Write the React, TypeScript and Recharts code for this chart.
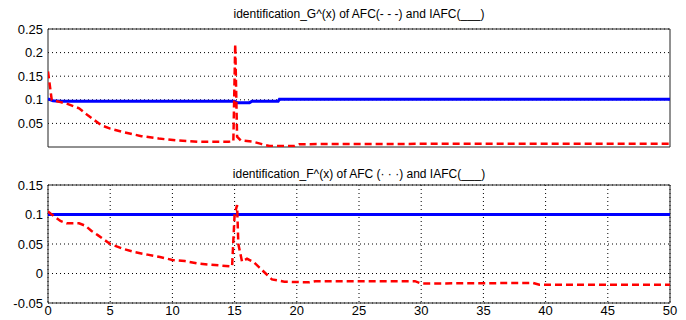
import { LineChart, Line, XAxis, YAxis, CartesianGrid, ReferenceArea } from 'recharts';

// top subplot: identification of G^(x)
const gAfcX = [0, 0.3, 1, 1.5, 2.5, 3.2, 4.3, 5, 6, 7.5, 8.9, 10.3, 12, 14.5, 14.9, 15.05, 15.2, 15.5, 16.5, 17.2, 17.8, 19.8, 20.2, 35, 50];
const gAfcY = [0.16, 0.1, 0.095, 0.092, 0.082, 0.067, 0.046, 0.039, 0.032, 0.023, 0.018, 0.014, 0.011, 0.011, 0.012, 0.218, 0.022, 0.014, 0.011, 0.006, 0.002, 0.002, 0.006, 0.007, 0.007];
const gIafcX = [0, 0.4, 1, 15, 15.2, 16.2, 16.4, 18.5, 18.6, 50];
const gIafcY = [0.102, 0.098, 0.097, 0.097, 0.094, 0.094, 0.097, 0.097, 0.101, 0.101];

// bottom subplot: identification of F^(x)
const fAfcX = [0, 0.3, 1, 1.5, 2.5, 3, 3.5, 4, 5, 6, 7, 8, 9, 10, 11, 12, 13, 14.8, 15, 15.2, 15.3, 15.6, 16, 16.5, 17, 17.5, 18, 19, 21, 21.5, 29.5, 30, 39, 39.5, 50];
const fAfcY = [0.105, 0.1, 0.089, 0.085, 0.085, 0.081, 0.072, 0.065, 0.05, 0.042, 0.036, 0.032, 0.028, 0.023, 0.021, 0.017, 0.015, 0.012, 0.1, 0.116, 0.05, 0.02, 0.025, 0.02, 0.01, 0, -0.01, -0.014, -0.015, -0.013, -0.013, -0.017, -0.016, -0.019, -0.019];
const fIafcX = [0, 50];
const fIafcY = [0.1, 0.1];

const xTicks = [0, 5, 10, 15, 20, 25, 30, 35, 40, 45, 50];
const gTicks = [0.05, 0.1, 0.15, 0.2, 0.25];
const fTicks = [-0.05, 0, 0.05, 0.1, 0.15];

const toPts = (xs: number[], ys: number[]) => xs.map((x, i) => ({ x, y: ys[i] }));

const font = "'Liberation Sans', Arial, sans-serif";
const tickStyle = { fill: '#000', fontSize: 13, fontFamily: font };

function Panel({ afc, iafc, domain, yTicks, showX, margin }: any) {
  return (
    <LineChart width={686} height={160} margin={margin}>
      <CartesianGrid stroke="#000" strokeDasharray="1 3" horizontalValues={yTicks} verticalValues={xTicks} />
      <XAxis
        dataKey="x"
        type="number"
        domain={[0, 50]}
        ticks={xTicks}
        allowDataOverflow
        height={showX ? 17 : 0}
        tick={showX ? tickStyle : false}
        tickLine={false}
        tickSize={0}
        tickMargin={3}
        axisLine={false}
      />
      <YAxis
        type="number"
        domain={domain}
        ticks={yTicks}
        allowDataOverflow
        width={48}
        tick={tickStyle}
        tickLine={false}
        tickSize={0}
        tickMargin={5}
        tickFormatter={(v: number) => String(v)}
        axisLine={false}
      />
      <Line data={iafc} dataKey="y" type="linear" stroke="#0000ff" strokeWidth={3} dot={false} isAnimationActive={false} />
      <Line data={afc} dataKey="y" type="linear" stroke="#ff0000" strokeWidth={2.5} strokeDasharray="7 4" dot={false} isAnimationActive={false} />
      <ReferenceArea x1={0} x2={50} y1={domain[0]} y2={domain[1]} fill="none" stroke="#222" strokeWidth={1} fillOpacity={0} ifOverflow="visible" />
    </LineChart>
  );
}

const titleStyle: any = {
  position: 'absolute',
  left: 48,
  width: 622,
  textAlign: 'center',
  fontFamily: font,
  fontSize: 12,
  color: '#000',
  lineHeight: '14px',
};

export default function App() {
  return (
    <div style={{ position: 'absolute', left: 0, top: 0, width: 686, height: 320, background: '#fff', overflow: 'hidden' }}>
      <div style={{ ...titleStyle, top: 7 }}>identification_G^(x) of AFC(- - -) and IAFC(___)</div>
      <div style={{ position: 'absolute', left: 0, top: 0 }}>
        <Panel
          afc={toPts(gAfcX, gAfcY)}
          iafc={toPts(gIafcX, gIafcY)}
          domain={[0, 0.25]}
          yTicks={gTicks}
          showX={false}
          margin={{ top: 29, right: 16, bottom: 13, left: 0 }}
        />
      </div>
      <div style={{ ...titleStyle, top: 167 }}>identification_F^(x) of AFC (· · ·) and IAFC(___)</div>
      <div style={{ position: 'absolute', left: 0, top: 160 }}>
        <Panel
          afc={toPts(fAfcX, fAfcY)}
          iafc={toPts(fIafcX, fIafcY)}
          domain={[-0.05, 0.15]}
          yTicks={fTicks}
          showX={true}
          margin={{ top: 25, right: 16, bottom: 0, left: 0 }}
        />
      </div>
    </div>
  );
}
